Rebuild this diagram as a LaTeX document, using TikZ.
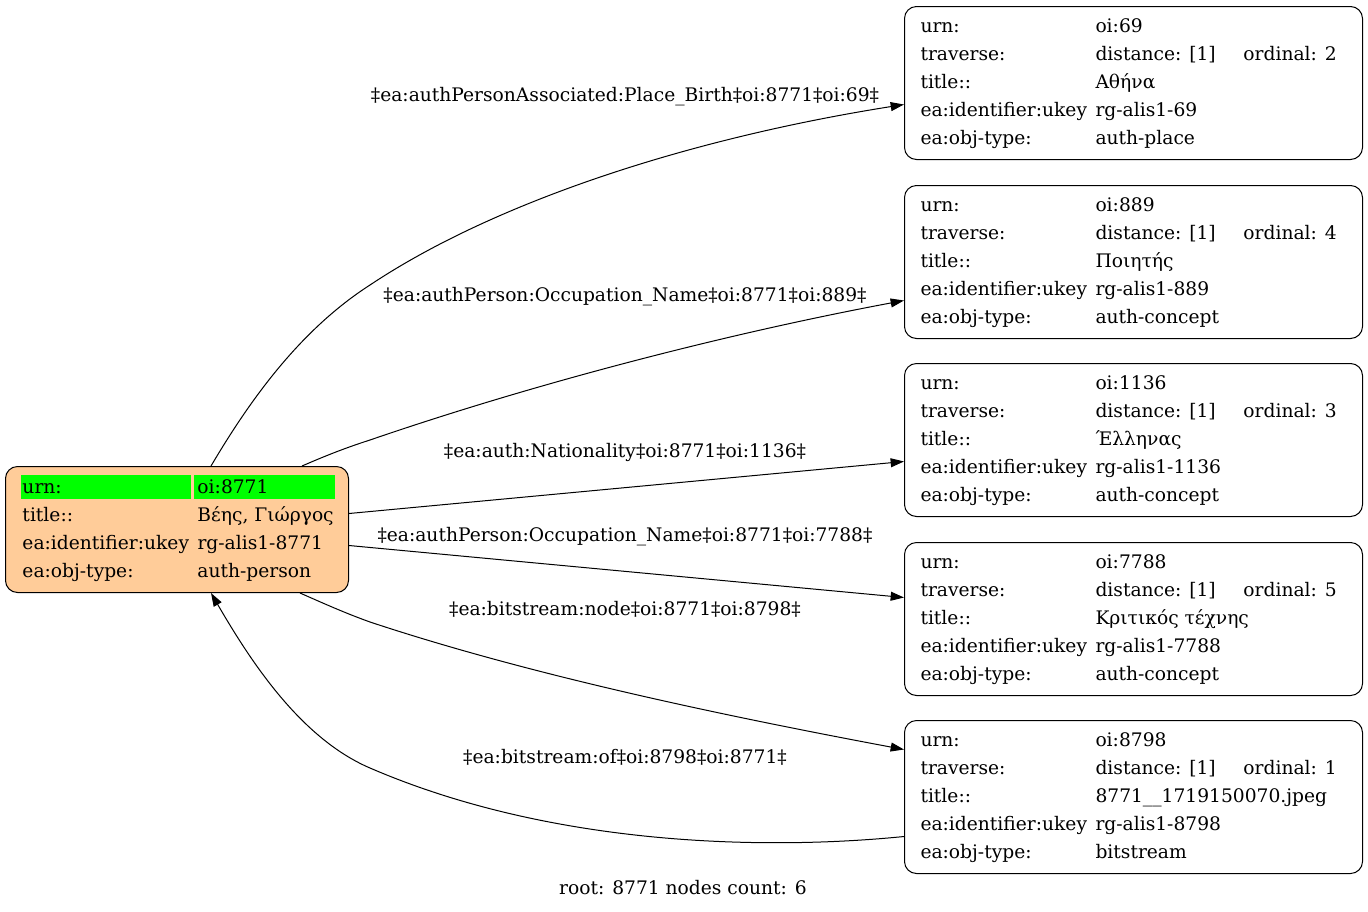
\documentclass[tikz,border=0pt]{standalone}
\usepackage{fontspec}
\setmainfont{DejaVu Serif}
\usetikzlibrary{arrows.meta,calc}
\definecolor{peach}{HTML}{FFCC99}
\definecolor{cellgreen}{HTML}{00FF00}
\newcommand{\recbody}[5]{\makebox[319.5pt][l]{\begin{tabular}{@{}p{131.25pt}@{}p{111pt}@{}l@{}}
urn: & \multicolumn{2}{@{}l@{}}{#1}\\
traverse: & distance: [1] & ordinal: #2\\
title:: & \multicolumn{2}{@{}l@{}}{#3}\\
ea:identifier:ukey & \multicolumn{2}{@{}l@{}}{#4}\\
ea:obj-type: & \multicolumn{2}{@{}l@{}}{#5}
\end{tabular}}}
\newcommand{\greenbar}[2]{\makebox[0pt][l]{\hspace{#1}\textcolor{cellgreen}{\rule[-4.5pt]{#2}{18pt}}}}
\begin{document}
\begin{tikzpicture}[x=0.75pt,y=-0.75pt,
  every node/.style={font=\fontsize{14}{21}\selectfont},
  rec/.style={draw, line width=0.75pt, rounded corners=9pt, anchor=north west,
    minimum width=343.5pt, minimum height=114.75pt, inner xsep=12pt, inner ysep=0pt},
  rootrec/.style={rec, fill=peach, minimum width=257.25pt, minimum height=94.5pt, inner xsep=12.75pt},
  lbl/.style={inner sep=1pt},
  conn/.style={line width=0.75pt, -{Triangle[length=10pt,width=6.7pt]}}]
\useasboundingbox (0,0) rectangle (1368,911);
\fill[white] (0,0) rectangle (1368,911);

\node[rootrec] (root) at (5,466) {\makebox[231.75pt][l]{\begin{tabular}{@{}p{131.25pt}@{}l@{}}
\greenbar{-1.5pt}{127.5pt}urn: & \greenbar{-2.25pt}{105.75pt}oi:8771\\
title:: & Βέης, Γιώργος\\
ea:identifier:ukey & rg-alis1-8771\\
ea:obj-type: & auth-person
\end{tabular}}};

\node[rec] (n1) at (904,6) {\recbody{oi:69}{2}{Αθήνα}{rg-alis1-69}{auth-place}};
\node[rec] (n2) at (904,185) {\recbody{oi:889}{4}{Ποιητής}{rg-alis1-889}{auth-concept}};
\node[rec] (n3) at (904,363) {\recbody{oi:1136}{3}{Έλληνας}{rg-alis1-1136}{auth-concept}};
\node[rec] (n4) at (904,542) {\recbody{oi:7788}{5}{Κριτικός τέχνης}{rg-alis1-7788}{auth-concept}};
\node[rec] (n5) at (904,720) {\recbody{oi:8798}{1}{8771\_\_1719150070.jpeg}{rg-alis1-8798}{bitstream}};

\node[lbl] (l1) at (625,97) {‡ea:authPersonAssociated:Place\_Birth‡oi:8771‡oi:69‡};
\node[lbl] (l2) at (625,297) {‡ea:authPerson:Occupation\_Name‡oi:8771‡oi:889‡};
\node[lbl] (l3) at (625,452) {‡ea:auth:Nationality‡oi:8771‡oi:1136‡};
\node[lbl] (l4) at (625,537) {‡ea:authPerson:Occupation\_Name‡oi:8771‡oi:7788‡};
\node[lbl] (l5) at (625,609) {‡ea:bitstream:node‡oi:8771‡oi:8798‡};
\node[lbl] (l6) at (625,757) {‡ea:bitstream:of‡oi:8798‡oi:8771‡};
\node[lbl] (foot) at (683,888) {root: 8771 nodes count: 6};

\draw[conn] ($(root.north west)+(206,0)$) .. controls (250,400) and (300,330) .. (370,285)
  .. controls (490,205) and (680,140) .. ($(n1.west)+(0,21.5)$);
\draw[conn] ($(root.north west)+(297,0)$) .. controls (325,456) and (345,448) .. (370,440)
  .. controls (530,385) and (720,335) .. ($(n2.west)+(0,38.5)$);
\draw[conn] ($(root.east)+(0,-16)$) -- ($(n3.west)+(0,21.5)$);
\draw[conn] ($(root.east)+(0,16)$) -- ($(n4.west)+(0,-21.5)$);
\draw[conn] ($(root.south west)+(295,0)$) .. controls (325,604) and (345,613) .. (370,622)
  .. controls (530,675) and (720,715) .. ($(n5.west)+(0,-47.5)$);
\draw[conn] ($(n5.west)+(0,39.5)$) .. controls (780,849) and (560,850) .. (370,768)
  .. controls (300,738) and (250,660) .. ($(root.south west)+(206,0)$);
\end{tikzpicture}
\end{document}
